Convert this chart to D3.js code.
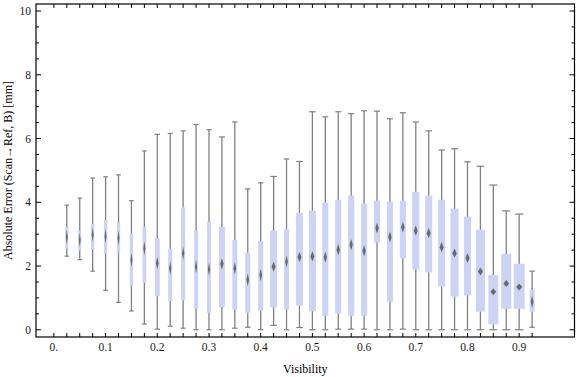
<!DOCTYPE html>
<html><head><meta charset="utf-8">
<script src="https://cdn.jsdelivr.net/npm/d3@7/dist/d3.min.js"></script>
<style>body{margin:0;background:#fff}svg{display:block}</style>
</head><body><svg id="c" width="576" height="377"></svg>
<script>
const visibility = [0.025,0.05,0.075,0.1,0.125,0.15,0.175,0.2,0.225,0.25,0.275,0.3,0.325,0.35,0.375,0.4,0.425,0.45,0.475,0.5,0.525,0.55,0.575,0.6,0.625,0.65,0.675,0.7,0.725,0.75,0.775,0.8,0.825,0.85,0.875,0.9,0.925];
const whiskerLow  = [2.31,2.20,1.84,1.24,0.86,0.59,0.18,0.02,0.11,0.05,0.00,0.00,0.00,0.05,0.08,0.00,0.14,0.00,0.07,0.00,0.00,0.02,0.02,0.02,0.00,0.00,0.02,0.00,0.00,0.00,0.00,0.00,0.00,0.00,0.00,0.00,0.08];
const quartile1   = [2.55,2.49,2.52,2.40,2.42,1.38,1.47,1.05,0.90,0.92,0.66,0.52,0.71,0.63,0.52,0.60,0.70,0.64,0.76,0.58,0.44,0.51,0.44,0.44,2.74,0.88,2.24,1.89,1.80,1.36,1.04,1.08,0.57,0.17,0.66,0.66,0.57];
const medianVal   = [2.91,2.82,2.98,2.93,2.88,2.19,2.56,2.09,1.93,2.40,1.98,1.90,2.07,1.93,1.57,1.72,1.98,2.14,2.28,2.30,2.28,2.51,2.67,2.48,3.19,2.91,3.22,3.11,3.03,2.59,2.40,2.25,1.83,1.19,1.45,1.34,0.88];
const quartile3   = [3.23,3.11,3.33,3.45,3.36,3.03,3.23,2.86,2.54,3.84,3.11,3.39,3.23,2.82,2.42,2.79,3.11,3.16,3.67,3.74,3.99,4.08,4.21,3.96,4.05,4.02,4.05,4.33,4.21,4.08,3.80,3.55,3.14,1.72,2.38,2.07,1.25];
const whiskerHigh = [3.91,4.13,4.76,4.80,4.86,4.05,5.61,6.13,6.16,6.24,6.44,6.28,6.05,6.52,4.42,4.61,4.81,5.36,5.28,6.84,6.68,6.84,6.78,6.87,6.86,6.62,6.81,6.52,6.24,5.64,5.68,5.27,5.13,4.54,3.73,3.63,1.84];
const relWeight   = [0.27,0.27,0.30,0.30,0.30,0.30,0.34,0.45,0.36,0.36,0.36,0.36,0.55,0.45,0.45,0.45,0.64,0.45,0.64,0.64,0.55,0.55,0.55,0.55,0.55,0.55,0.55,0.64,0.64,0.64,0.73,0.64,0.82,0.91,0.91,1.00,0.45];
const xTickLabels = [[0,"0."],[0.1,"0.1"],[0.2,"0.2"],[0.3,"0.3"],[0.4,"0.4"],[0.5,"0.5"],[0.6,"0.6"],[0.7,"0.7"],[0.8,"0.8"],[0.9,"0.9"]];
const yTickLabels = [0,2,4,6,8,10];

const L=36, R=574.5, T=4, B=337;
const svg = d3.select("#c");
const x = d3.scaleLinear().domain([-0.0346, 1.007]).range([L, R]);
const y = d3.scaleLinear().domain([-0.226, 10.22]).range([B, T]);
const wScale = d3.scaleLinear().domain([0,1]).range([0,11]);

const defs = svg.append("defs");
defs.append("filter").attr("id","blur").attr("x","-50%").attr("y","-50%").attr("width","200%").attr("height","200%")
  .append("feGaussianBlur").attr("stdDeviation",0.6);

const data = visibility.map((v,i)=>({v, lo:whiskerLow[i], q1:quartile1[i], med:medianVal[i], q3:quartile3[i], hi:whiskerHigh[i], w:wScale(relWeight[i])}));

const g = svg.append("g");
// whiskers
g.selectAll("line.wh").data(data).join("line")
  .attr("x1",d=>x(d.v)).attr("x2",d=>x(d.v)).attr("y1",d=>y(d.lo)).attr("y2",d=>y(d.hi))
  .attr("stroke","#808080").attr("stroke-width",1.3);
["lo","hi"].forEach(k=>{
  g.selectAll("line.cap"+k).data(data).join("line")
    .attr("x1",d=>x(d.v)-(1.5+d.w*0.25)).attr("x2",d=>x(d.v)+(1.5+d.w*0.25))
    .attr("y1",d=>y(d[k])).attr("y2",d=>y(d[k]))
    .attr("stroke","#808080").attr("stroke-width",1.2);
});
// boxes
g.selectAll("rect.box").data(data).join("rect")
  .attr("x",d=>x(d.v)-d.w/2).attr("width",d=>d.w)
  .attr("y",d=>y(d.q3)).attr("height",d=>y(d.q1)-y(d.q3))
  .attr("fill","#ccd3f5");
// median diamonds
g.selectAll("path.med").data(data).join("path")
  .attr("d",d=>{
    const cx=x(d.v), cy=y(d.med), hw=Math.max(1,d.w*0.28), hh=Math.max(3.5,(18-d.w*1.1)/2);
    return `M${cx},${cy-hh}L${cx+hw},${cy}L${cx},${cy+hh}L${cx-hw},${cy}Z`;
  })
  .attr("fill","#6a6a6a").attr("filter","url(#blur)");

// frame
svg.append("rect").attr("x",L).attr("y",T).attr("width",R-L).attr("height",B-T)
  .attr("fill","none").attr("stroke","#000").attr("stroke-width",1.2);

// x ticks (box positions + 0)
const xt = [0].concat(visibility);
svg.selectAll("line.xtb").data(xt).join("line")
  .attr("x1",d=>x(d)).attr("x2",d=>x(d)).attr("y1",B).attr("y2",B-4).attr("stroke","#000");
svg.selectAll("line.xtt").data(xt).join("line")
  .attr("x1",d=>x(d)).attr("x2",d=>x(d)).attr("y1",T).attr("y2",T+4).attr("stroke","#000");
// y ticks
const yt = d3.range(0,10.01,0.5);
["l","r"].forEach(s=>{
  svg.selectAll("line.yt"+s).data(yt).join("line")
    .attr("y1",d=>y(d)).attr("y2",d=>y(d))
    .attr("x1",s==="l"?L:R)
    .attr("x2",d=>{const len=(d%2===0)?5:3; return s==="l"?L+len:R-len;})
    .attr("stroke","#000");
});

const font = "'Liberation Serif','Times New Roman',serif";
svg.selectAll("text.xl").data(xTickLabels).join("text")
  .attr("x",d=>x(d[0])).attr("y",351).attr("text-anchor","middle")
  .attr("font-family",font).attr("font-size",11.5).attr("fill","#1a1a1a").text(d=>d[1]);
svg.selectAll("text.yl").data(yTickLabels).join("text")
  .attr("x",31).attr("y",d=>y(d)+4).attr("text-anchor","end")
  .attr("font-family",font).attr("font-size",11.5).attr("fill","#1a1a1a").text(d=>d);

svg.append("text").attr("x",(L+R)/2).attr("y",373).attr("text-anchor","middle")
  .attr("font-family",font).attr("font-size",12).attr("fill","#000").text("Visibility");
svg.append("text").attr("transform",`translate(12,${(T+B)/2}) rotate(-90)`).attr("text-anchor","middle")
  .attr("font-family",font).attr("font-size",12).attr("fill","#000").text("Absolute Error (Scan\u2192Ref, B) [mm]");
</script></body></html>
